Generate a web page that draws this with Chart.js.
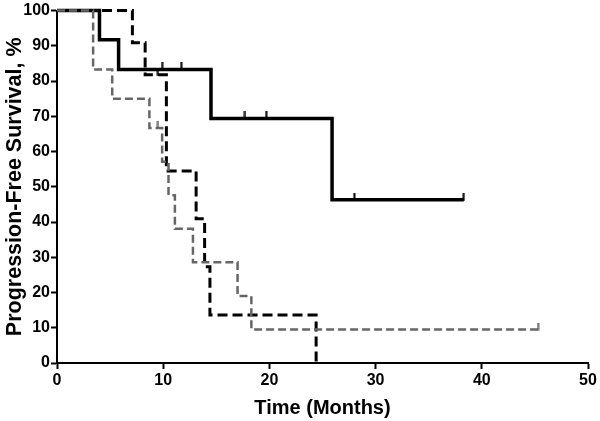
<!DOCTYPE html>
<html>
<head>
<meta charset="utf-8">
<script src="https://cdn.jsdelivr.net/npm/chart.js@4/dist/chart.umd.min.js"></script>
<style>
  html, body { margin: 0; padding: 0; background: #fff; }
  #wrap { width: 600px; height: 421px; }
</style>
</head>
<body>
<div id="wrap"><canvas id="chart" width="600" height="421"></canvas></div>
<script>
const xTicks = [0, 10, 20, 30, 40, 50]
const yTicks = [0, 10, 20, 30, 40, 50, 60, 70, 80, 90, 100]

// Kaplan-Meier steps: time (months) and survival (%) after each event
const solidTimes = [0, 4.0, 5.8, 14.5, 25.9, 38.3]
const solidSurvival = [100, 91.7, 83.3, 69.4, 46.3, 46.3]
const solidCensorTimes = [9.9, 11.7, 17.7, 19.7, 28.0, 38.3]
const solidCensorSurvival = [83.3, 83.3, 69.4, 69.4, 46.3, 46.3]

const blackDashTimes = [0, 7.1, 8.3, 10.3, 13.1, 13.9, 14.4, 24.4]
const blackDashSurvival = [100, 90.9, 81.8, 54.5, 40.9, 27.3, 13.6, 0]
const blackDashCensorTimes = [9.5]
const blackDashCensorSurvival = [81.8]

const grayDashTimes = [0, 3.4, 5.2, 8.7, 9.9, 10.5, 11.1, 12.8, 17.0, 18.3, 45.3]
const grayDashSurvival = [100, 83.3, 75, 66.7, 57.1, 47.6, 38.1, 28.6, 19.0, 9.5, 9.5]
const grayDashCensorTimes = [9.5, 45.3]
const grayDashCensorSurvival = [66.7, 9.5]

const font = 'Liberation Sans, Arial, sans-serif'

// censor mark: short vertical stroke sitting on top of the curve
function tickMark (color) {
  const c = document.createElement('canvas')
  c.width = 3
  c.height = 14
  const ctx = c.getContext('2d')
  ctx.fillStyle = color
  ctx.fillRect(0.5, 0, 2, 8)
  return c
}

function points (xs, ys) {
  return xs.map((x, i) => ({ x: x, y: ys[i] }))
}

function curve (xs, ys, color, width, dash) {
  return {
    type: 'line',
    data: points(xs, ys),
    borderColor: color,
    borderWidth: width,
    borderDash: dash,
    stepped: 'before',
    pointRadius: 0,
    fill: false,
    clip: false
  }
}

function censors (xs, ys, color) {
  return {
    type: 'scatter',
    data: points(xs, ys),
    pointStyle: tickMark(color),
    radius: 5,
    clip: false
  }
}

new Chart(document.getElementById('chart').getContext('2d'), {
  type: 'line',
  data: {
    datasets: [
      curve(grayDashTimes, grayDashSurvival, '#666', 2.5, [8, 4]),
      censors(grayDashCensorTimes, grayDashCensorSurvival, '#666'),
      curve(blackDashTimes, blackDashSurvival, '#000', 3, [10, 5]),
      censors(blackDashCensorTimes, blackDashCensorSurvival, '#000'),
      curve(solidTimes, solidSurvival, '#000', 3.5, []),
      censors(solidCensorTimes, solidCensorSurvival, '#000')
    ]
  },
  options: {
    responsive: false,
    animation: false,
    layout: { padding: { left: 0, right: 12, top: 10, bottom: 0 } },
    plugins: { legend: { display: false }, tooltip: { enabled: false } },
    scales: {
      x: {
        type: 'linear',
        min: 0,
        max: 50,
        afterBuildTicks: (scale) => { scale.ticks = xTicks.map((v) => ({ value: v })) },
        afterFit: (scale) => { scale.height = 58 },
        grid: { drawOnChartArea: false, drawTicks: true, tickLength: 6, tickWidth: 2, color: '#000' },
        border: { display: true, color: '#000', width: 2 },
        ticks: { color: '#000', padding: 2, maxRotation: 0, font: { family: font, size: 16, weight: 'bold' } },
        title: {
          display: true,
          text: 'Time (Months)',
          color: '#000',
          padding: { top: 0, bottom: 1 },
          font: { family: font, size: 20, weight: 'bold' }
        }
      },
      y: {
        min: 0,
        max: 100,
        afterBuildTicks: (scale) => { scale.ticks = yTicks.map((v) => ({ value: v })) },
        afterFit: (scale) => { scale.width = 57 },
        grid: { drawOnChartArea: false, drawTicks: true, tickLength: 6, tickWidth: 2, color: '#000' },
        border: { display: true, color: '#000', width: 2 },
        ticks: { color: '#000', padding: 1, font: { family: font, size: 16, weight: 'bold' } },
        title: {
          display: true,
          text: 'Progression-Free Survival, %',
          color: '#000',
          padding: { top: 2, bottom: 0 },
          font: { family: font, size: 21.5, weight: 'bold' }
        }
      }
    }
  }
})
</script>
</body>
</html>
